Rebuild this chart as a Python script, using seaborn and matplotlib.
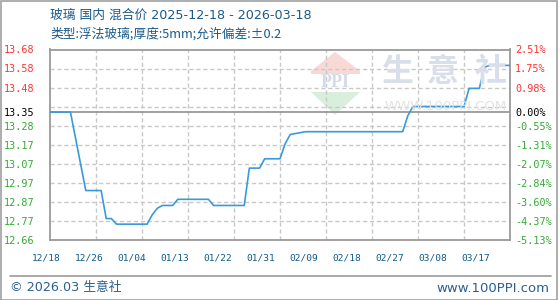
import numpy as np
import pandas as pd
import matplotlib
matplotlib.use("Agg")
import matplotlib.pyplot as plt
import seaborn as sns
from matplotlib.patches import Polygon, Rectangle
from matplotlib.lines import Line2D

# ---------------- data ----------------
dates = ['2025-12-18', '2025-12-22', '2025-12-23', '2025-12-24', '2025-12-25',
         '2025-12-28', '2025-12-29', '2025-12-30', '2025-12-31',
         '2026-01-06', '2026-01-07', '2026-01-08', '2026-01-09',
         '2026-01-11', '2026-01-12', '2026-01-18', '2026-01-19',
         '2026-01-25', '2026-01-26', '2026-01-28', '2026-01-29',
         '2026-02-01', '2026-02-02', '2026-02-03', '2026-02-04',
         '2026-02-05', '2026-02-06', '2026-02-25', '2026-02-26',
         '2026-02-27', '2026-03-09', '2026-03-10', '2026-03-12',
         '2026-03-13', '2026-03-14', '2026-03-18']
prices = [13.35, 13.35, 13.21, 13.07, 12.93,
          12.93, 12.78, 12.78, 12.75,
          12.75, 12.80, 12.835, 12.85,
          12.85, 12.883, 12.883, 12.85,
          12.85, 13.05, 13.05, 13.10,
          13.10, 13.18, 13.23, 13.235,
          13.24, 13.245, 13.245, 13.33,
          13.38, 13.38, 13.477, 13.477,
          13.59, 13.60, 13.60]

base_price = 13.35
left_labels = ['13.68', '13.58', '13.48', '13.35', '13.28', '13.17',
               '13.07', '12.97', '12.87', '12.77', '12.66']
pct_ticks = [2.51, 1.75, 0.98, 0.00, -0.55, -1.31, -2.07, -2.84, -3.60, -4.37, -5.13]
right_labels = ['2.51%', '1.75%', '0.98%', '0.00%', '-0.55%', '-1.31%',
                '-2.07%', '-2.84%', '-3.60%', '-4.37%', '-5.13%']
x_labels = ['12/18', '12/26', '01/04', '01/13', '01/22', '01/31',
            '02/09', '02/18', '02/27', '03/08', '03/17']

title1 = '玻璃 国内 混合价 2025-12-18 - 2026-03-18'
title2 = '类型:浮法玻璃;厚度:5mm;允许偏差:±0.2'
footer_left = '© 2026.03 生意社'
footer_right = 'www.100PPI.com'

# ---------------- styling ----------------
sns.set_style("white")
plt.rcParams['font.family'] = ['Noto Sans CJK SC', 'DejaVu Sans']

W, H = 560, 300
fig = plt.figure(figsize=(W / 100, H / 100), dpi=100)
fig.patch.set_facecolor('white')

def fx(px):
    return px / W

def fy(py):
    return 1 - py / H

ax_l, ax_r, ax_t, ax_b = 50, 510, 49.5, 240
ax = fig.add_axes([fx(ax_l), fy(ax_b), fx(ax_r - ax_l), (ax_b - ax_t) / H])
ax.set_facecolor('none')

start = pd.Timestamp(dates[0])
df = pd.DataFrame({'day': [(pd.Timestamp(d) - start).days for d in dates],
                   'price': prices})

ymin = base_price * (1 + pct_ticks[-1] / 100)
ymax = base_price * (1 + pct_ticks[0] / 100)
ax.set_ylim(ymin, ymax)
ax.set_xlim(0, 90)

# grid lines
grid_y = np.linspace(ymin, ymax, 11)
for g in grid_y[1:-1]:
    ax.axhline(g, color='#c8c8c8', lw=1, ls=(0, (3, 2)), zorder=1)
for gx in range(9, 90, 9):
    ax.axvline(gx, color='#c8c8c8', lw=1, ls=(0, (3, 2)), zorder=1)
ax.axhline(base_price, color='#999999', lw=1.3, zorder=2)

sns.lineplot(data=df, x='day', y='price', ax=ax, color='#3a9ad9',
             linewidth=1.2, zorder=3)
ax.set_xlabel('')
ax.set_ylabel('')

for s in ax.spines.values():
    s.set_color('#9a9a9a')
    s.set_linewidth(1.3)
    s.set_visible(True)

# y tick labels
tick_pos = [base_price * (1 + p / 100) for p in pct_ticks]
def col(p):
    return '#ff3333' if p > 0 else ('#000000' if p == 0 else '#33aa33')

ax.set_yticks(tick_pos)
ax.set_yticklabels(left_labels, family='DejaVu Sans Mono', fontsize=7.3)
for lab, p in zip(ax.get_yticklabels(), pct_ticks):
    lab.set_color(col(p))
ax.tick_params(axis='y', length=0, pad=11.5)
ax.set_xticks([])

axr = ax.twinx()
axr.set_ylim(ymin, ymax)
axr.set_yticks(tick_pos)
axr.set_yticklabels(right_labels, family='DejaVu Sans Mono', fontsize=7.3)
for lab, p in zip(axr.get_yticklabels(), pct_ticks):
    lab.set_color(col(p))
axr.tick_params(axis='y', length=0, pad=3.6)
for s in axr.spines.values():
    s.set_visible(False)

# x labels (placed as in the reference: every 43 px starting at 46 px)
for i, lab in enumerate(x_labels):
    px = 46 + 43 * i
    fig.text(fx(px), fy(258), lab, ha='center', va='center',
             family='DejaVu Sans Mono', fontsize=6.8, color='#0e5a8a')

# watermark
wm = fig.transFigure
ax.add_patch(Polygon([(fx(335), fy(52)), (fx(360), fy(71)), (fx(360), fy(74)),
                      (fx(311), fy(74)), (fx(311), fy(71))],
                     closed=True, transform=wm, facecolor='#f9d9d6',
                     edgecolor='none', zorder=0.5))
ax.add_patch(Polygon([(fx(311), fy(92)), (fx(360), fy(92)), (fx(335), fy(115))],
                     closed=True, transform=wm, facecolor='#d9eedc',
                     edgecolor='none', zorder=0.5))
fig.text(fx(335.5), fy(83), 'PPI', ha='center', va='center',
         family='Liberation Serif', fontweight='bold', fontsize=13,
         color='#d3dbe9', zorder=0.6)
for ch, cx in zip('生意社', [397, 443, 491]):
    fig.text(fx(cx), fy(72), ch, ha='center', va='center',
             family='Noto Sans CJK SC', fontweight='bold', fontsize=23,
             color='#d8deea', zorder=0.6)
fig.text(fx(446), fy(107), 'WWW.100PPI.COM', ha='center', va='center',
         family='DejaVu Sans', fontsize=9.5, color='#e2e2e2', zorder=0.6)

# titles
fig.text(fx(50), fy(15), title1, ha='left', va='center', fontsize=9.2,
         family=['DejaVu Sans', 'Noto Sans CJK SC'], color='#1a5a8a')
fig.text(fx(50), fy(34), title2, ha='left', va='center', fontsize=9.2,
         family=['Noto Sans CJK SC', 'DejaVu Sans'], color='#1a5a8a')

# footer
fig.add_artist(Line2D([fx(10), fx(551)], [fy(276), fy(276)],
                      color='#999999', lw=1.2, transform=fig.transFigure))
fig.text(fx(10), fy(288), footer_left, ha='left', va='center', fontsize=9.2,
         family=['DejaVu Sans', 'Noto Sans CJK SC'], color='#2a6090')
fig.text(fx(549), fy(288), footer_right, ha='right', va='center',
         fontsize=9.5, family='DejaVu Sans', color='#2a6090')

# outer border
fig.add_artist(Rectangle((fx(0.5), fy(299.5)), fx(556), (299) / H,
                         transform=fig.transFigure, fill=False,
                         edgecolor='#a0a0a0', lw=1.2))

fig.savefig('out.png', dpi=100, facecolor='white')
